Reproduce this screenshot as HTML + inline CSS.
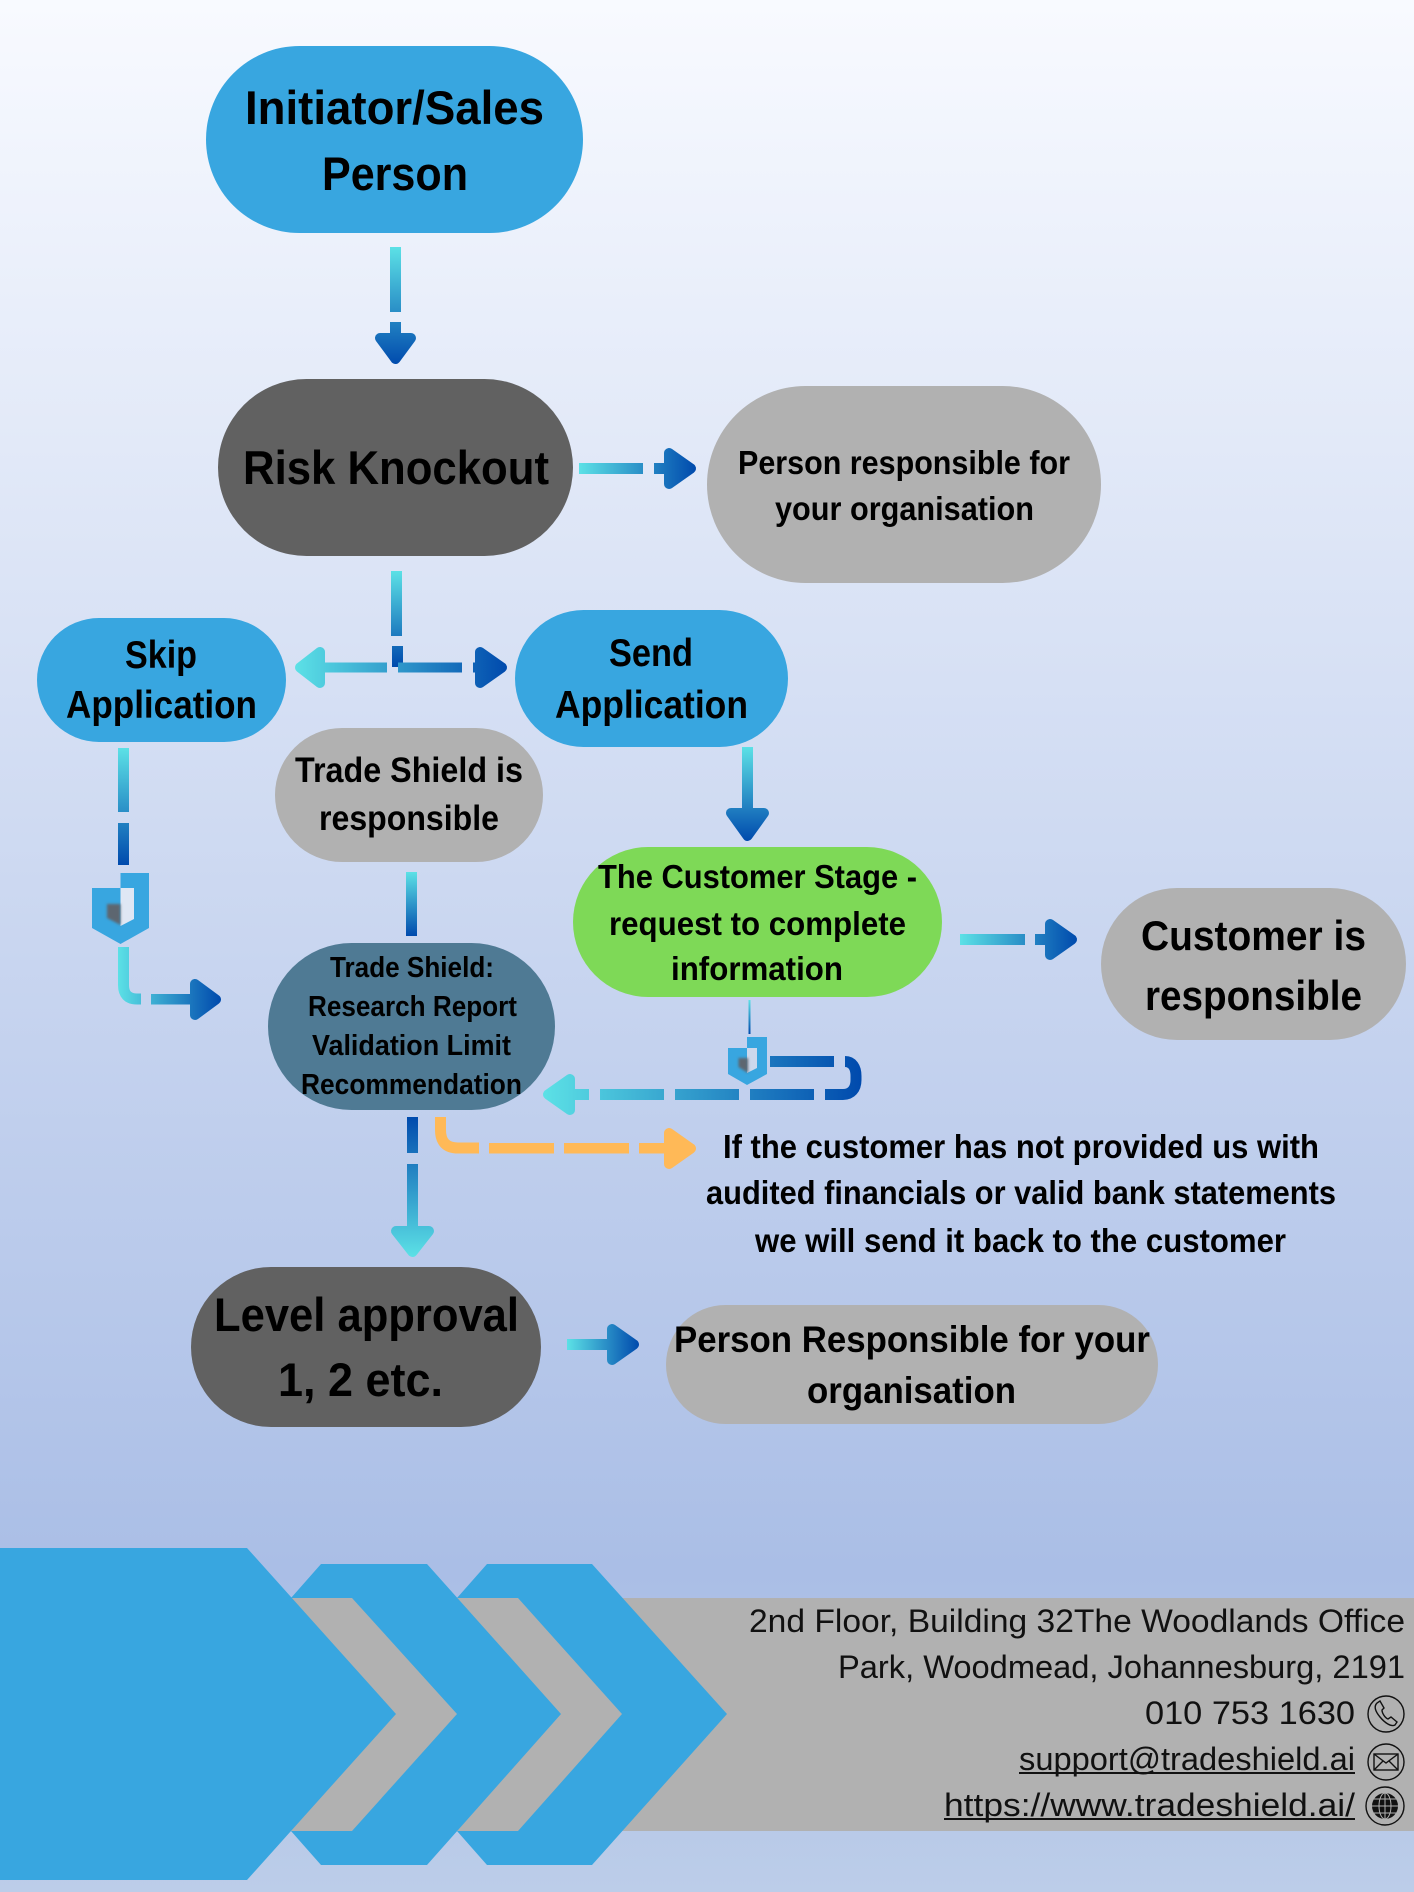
<!DOCTYPE html>
<html lang="en"><head><meta charset="utf-8"><title>Trade Shield Process</title>
<style>
html,body{margin:0;padding:0;width:1414px;height:1892px;overflow:hidden}
svg{display:block}
text{font-family:"Liberation Sans",sans-serif;fill:#000}
.b{font-weight:bold;text-anchor:start}
.r{font-weight:normal;text-anchor:start;fill:#111}
</style></head><body>
<svg xmlns="http://www.w3.org/2000/svg" width="1414" height="1892" viewBox="0 0 1414 1892">
<defs>
<linearGradient id="bg" x1="0" y1="0" x2="0" y2="1"><stop offset="0" stop-color="#f8faff"/><stop offset=".83" stop-color="#aabee6"/><stop offset="1" stop-color="#bccde9"/></linearGradient>
<linearGradient id="a1" gradientUnits="userSpaceOnUse" x1="0" y1="247" x2="0" y2="365"><stop offset="0" stop-color="#5ce1e6"/><stop offset="1" stop-color="#004aad"/></linearGradient>
<linearGradient id="a2" gradientUnits="userSpaceOnUse" x1="579" y1="0" x2="696" y2="0"><stop offset="0" stop-color="#5ce1e6"/><stop offset="1" stop-color="#004aad"/></linearGradient>
<linearGradient id="a3" gradientUnits="userSpaceOnUse" x1="0" y1="571" x2="0" y2="666"><stop offset="0" stop-color="#5ce1e6"/><stop offset="1" stop-color="#004aad"/></linearGradient>
<linearGradient id="a4" gradientUnits="userSpaceOnUse" x1="295" y1="0" x2="507" y2="0"><stop offset="0" stop-color="#5ce1e6"/><stop offset="1" stop-color="#004aad"/></linearGradient>
<linearGradient id="a5" gradientUnits="userSpaceOnUse" x1="0" y1="748" x2="0" y2="865"><stop offset="0" stop-color="#5ce1e6"/><stop offset="1" stop-color="#004aad"/></linearGradient>
<linearGradient id="a6" gradientUnits="userSpaceOnUse" x1="118" y1="0" x2="221" y2="0"><stop offset="0" stop-color="#5ce1e6"/><stop offset="1" stop-color="#004aad"/></linearGradient>
<linearGradient id="a7" gradientUnits="userSpaceOnUse" x1="0" y1="872" x2="0" y2="936"><stop offset="0" stop-color="#5ce1e6"/><stop offset="1" stop-color="#004aad"/></linearGradient>
<linearGradient id="a8" gradientUnits="userSpaceOnUse" x1="0" y1="747" x2="0" y2="841"><stop offset="0" stop-color="#5ce1e6"/><stop offset="1" stop-color="#004aad"/></linearGradient>
<linearGradient id="a9" gradientUnits="userSpaceOnUse" x1="960" y1="0" x2="1077" y2="0"><stop offset="0" stop-color="#5ce1e6"/><stop offset="1" stop-color="#004aad"/></linearGradient>
<linearGradient id="a10" gradientUnits="userSpaceOnUse" x1="543" y1="0" x2="861" y2="0"><stop offset="0" stop-color="#5ce1e6"/><stop offset="1" stop-color="#004aad"/></linearGradient>
<linearGradient id="a11" gradientUnits="userSpaceOnUse" x1="0" y1="1000" x2="0" y2="1034"><stop offset="0" stop-color="#5ce1e6"/><stop offset="1" stop-color="#004aad"/></linearGradient>
<linearGradient id="a12" gradientUnits="userSpaceOnUse" x1="0" y1="1117" x2="0" y2="1257"><stop offset="0" stop-color="#004aad"/><stop offset="1" stop-color="#5ce1e6"/></linearGradient>
<linearGradient id="a13" gradientUnits="userSpaceOnUse" x1="567" y1="0" x2="639" y2="0"><stop offset="0" stop-color="#5ce1e6"/><stop offset="1" stop-color="#004aad"/></linearGradient>
<filter id="bl" x="-40%" y="-40%" width="180%" height="180%"><feGaussianBlur stdDeviation="1.2"/></filter>
</defs>
<rect width="1414" height="1892" fill="url(#bg)"/>

<!-- top arrow -->
<rect x="390" y="247" width="11" height="65" fill="url(#a1)"/>
<rect x="390" y="322" width="11" height="14" fill="url(#a1)"/>
<path d="M380 338H411L395.5 359Z" fill="url(#a1)" stroke="url(#a1)" stroke-width="10" stroke-linejoin="round"/>

<!-- risk → person -->
<rect x="579" y="463" width="64" height="11" fill="url(#a2)"/>
<rect x="654" y="463" width="12" height="11" fill="url(#a2)"/>
<path d="M669 453V484L691 468.5Z" fill="url(#a2)" stroke="url(#a2)" stroke-width="10" stroke-linejoin="round"/>

<!-- T junction -->
<rect x="391" y="571" width="11" height="65" fill="url(#a3)"/>
<rect x="392" y="646" width="11" height="21" fill="url(#a3)"/>
<rect x="323" y="662.5" width="64" height="10" fill="url(#a4)"/>
<path d="M320 652V683L300 667.5Z" fill="url(#a4)" stroke="url(#a4)" stroke-width="10" stroke-linejoin="round"/>
<rect x="398" y="662.5" width="64" height="10" fill="url(#a4)"/>
<rect x="473" y="662.5" width="6" height="10" fill="url(#a4)"/>
<path d="M480 652V683L502 667.5Z" fill="url(#a4)" stroke="url(#a4)" stroke-width="10" stroke-linejoin="round"/>

<!-- skip path -->
<rect x="118" y="748" width="11" height="64" fill="url(#a5)"/>
<rect x="118" y="823" width="11" height="42" fill="url(#a5)"/>
<path d="M120.5 873H149V928L120.5 944L92 928V888H120.5Z" fill="#38a6e0"/>
<path d="M120.5 888H134V919L120.5 926Z" fill="#dfe7f4"/>
<path d="M107 904H120.5V925L107 918Z" fill="#5d6670" filter="url(#bl)"/>
<path d="M123.5 947V985Q123.5 999 137 999H141" fill="none" stroke="url(#a6)" stroke-width="11"/>
<rect x="151" y="994" width="42" height="10.5" fill="url(#a6)"/>
<path d="M195 984V1015L216 999.5Z" fill="url(#a6)" stroke="url(#a6)" stroke-width="10" stroke-linejoin="round"/>

<!-- gray→teal connector -->
<rect x="406" y="872" width="11" height="64" fill="url(#a7)"/>

<!-- send down -->
<rect x="742" y="747" width="11" height="62" fill="url(#a8)"/>
<path d="M731 813H764L747.5 836Z" fill="url(#a8)" stroke="url(#a8)" stroke-width="10" stroke-linejoin="round"/>

<!-- green → customer -->
<rect x="960" y="934" width="65" height="11" fill="url(#a9)"/>
<rect x="1035" y="934" width="12" height="11" fill="url(#a9)"/>
<path d="M1050 924V955L1072 939.5Z" fill="url(#a9)" stroke="url(#a9)" stroke-width="10" stroke-linejoin="round"/>

<!-- return path -->
<rect x="748.5" y="1000" width="2" height="34" fill="url(#a11)"/>
<rect x="770" y="1056" width="64" height="11" fill="url(#a10)"/>
<path d="M845 1061.5C852 1061.5 856 1067 856 1076V1080C856 1089 851 1094.5 843 1094.5H825" fill="none" stroke="url(#a10)" stroke-width="11"/>
<rect x="750" y="1089" width="64" height="11" fill="url(#a10)"/>
<rect x="675" y="1089" width="64" height="11" fill="url(#a10)"/>
<rect x="600" y="1089" width="64" height="11" fill="url(#a10)"/>
<rect x="573" y="1089" width="16" height="11" fill="url(#a10)"/>
<path d="M570 1079V1110L548 1094.5Z" fill="url(#a10)" stroke="url(#a10)" stroke-width="10" stroke-linejoin="round"/>
<path d="M747 1037H767V1074L747 1085L728 1074V1048H747Z" fill="#38a6e0"/>
<path d="M747 1048H757V1068L747 1073Z" fill="#cdd8ec"/>
<path d="M738.5 1058H748V1073L738.5 1067Z" fill="#5d6670" filter="url(#bl)"/>

<!-- down arrow from teal -->
<rect x="407" y="1117" width="11" height="36" fill="url(#a12)"/>
<rect x="407" y="1164" width="11" height="65" fill="url(#a12)"/>
<path d="M396 1231H429L412.5 1252Z" fill="url(#a12)" stroke="url(#a12)" stroke-width="10" stroke-linejoin="round"/>

<!-- orange -->
<path d="M440.5 1117V1130Q440.5 1148 458 1148H479" fill="none" stroke="#ffb957" stroke-width="11"/>
<rect x="489" y="1143" width="65" height="10.5" fill="#ffb957"/>
<rect x="564" y="1143" width="65" height="10.5" fill="#ffb957"/>
<rect x="639" y="1143" width="28" height="10.5" fill="#ffb957"/>
<path d="M669 1133V1164L691 1148.5Z" fill="#ffb957" stroke="#ffb957" stroke-width="10" stroke-linejoin="round"/>

<!-- level arrow -->
<rect x="567" y="1339" width="44" height="11" fill="url(#a13)"/>
<path d="M612 1329V1360L634 1344.5Z" fill="url(#a13)" stroke="url(#a13)" stroke-width="10" stroke-linejoin="round"/>

<!-- pills -->
<rect x="206" y="46" width="377" height="187" rx="93.5" fill="#38a6e0"/>
<rect x="218" y="379" width="355" height="177" rx="88.5" fill="#616161"/>
<rect x="707" y="386" width="394" height="197" rx="98.5" fill="#b1b1b1"/>
<rect x="37" y="618" width="249" height="124" rx="62" fill="#38a6e0"/>
<rect x="515" y="610" width="273" height="137" rx="68.5" fill="#38a6e0"/>
<rect x="275" y="728" width="268" height="134" rx="67" fill="#b1b1b1"/>
<rect x="268" y="943" width="287" height="167" rx="83.5" fill="#4f7a94"/>
<rect x="573" y="847" width="369" height="150" rx="75" fill="#7ed957"/>
<rect x="1101" y="888" width="305" height="152" rx="76" fill="#b1b1b1"/>
<rect x="191" y="1267" width="350" height="160" rx="80" fill="#616161"/>
<rect x="666" y="1305" width="492" height="119" rx="59.5" fill="#b1b1b1"/>

<!-- footer -->
<rect x="291" y="1598" width="1123" height="233" fill="#b1b1b1"/>
<path d="M0 1548H247L396 1714L247 1880H0Z" fill="#38a6e0"/>
<path d="M321 1564H427L561 1714L427 1865H321L291 1831H352L457 1714L352 1598H291Z" fill="#38a6e0"/>
<path d="M487 1564H592L727 1714L592 1865H487L457 1831H518L622 1714L518 1598H457Z" fill="#38a6e0"/>

<!-- labels -->
<g class="b">
<text class="b" x="245" y="124" font-size="47" textLength="299" lengthAdjust="spacingAndGlyphs">Initiator/Sales</text>
<text class="b" x="322" y="190" font-size="47" textLength="146" lengthAdjust="spacingAndGlyphs">Person</text>
<text class="b" x="243" y="484" font-size="47" textLength="306" lengthAdjust="spacingAndGlyphs">Risk Knockout</text>
<text class="b" x="738" y="474" font-size="33" textLength="332" lengthAdjust="spacingAndGlyphs">Person responsible for</text>
<text class="b" x="775" y="520" font-size="33" textLength="259" lengthAdjust="spacingAndGlyphs">your organisation</text>
<text class="b" x="125" y="668" font-size="39" textLength="72" lengthAdjust="spacingAndGlyphs">Skip</text>
<text class="b" x="66" y="718" font-size="39" textLength="191" lengthAdjust="spacingAndGlyphs">Application</text>
<text class="b" x="609" y="666" font-size="39" textLength="84" lengthAdjust="spacingAndGlyphs">Send</text>
<text class="b" x="555" y="718" font-size="39" textLength="193" lengthAdjust="spacingAndGlyphs">Application</text>
<text class="b" x="295" y="782" font-size="35" textLength="228" lengthAdjust="spacingAndGlyphs">Trade Shield is</text>
<text class="b" x="319" y="830" font-size="35" textLength="180" lengthAdjust="spacingAndGlyphs">responsible</text>
<text class="b" x="330" y="977" font-size="29" textLength="164" lengthAdjust="spacingAndGlyphs">Trade Shield:</text>
<text class="b" x="308" y="1016" font-size="29" textLength="209" lengthAdjust="spacingAndGlyphs">Research Report</text>
<text class="b" x="312" y="1055" font-size="29" textLength="199" lengthAdjust="spacingAndGlyphs">Validation Limit</text>
<text class="b" x="301" y="1094" font-size="29" textLength="221" lengthAdjust="spacingAndGlyphs">Recommendation</text>
<text class="b" x="598" y="888" font-size="33" textLength="319" lengthAdjust="spacingAndGlyphs">The Customer Stage -</text>
<text class="b" x="609" y="935" font-size="33" textLength="297" lengthAdjust="spacingAndGlyphs">request to complete</text>
<text class="b" x="671" y="980" font-size="33" textLength="172" lengthAdjust="spacingAndGlyphs">information</text>
<text class="b" x="1141" y="950" font-size="42" textLength="225" lengthAdjust="spacingAndGlyphs">Customer is</text>
<text class="b" x="1145" y="1010" font-size="42" textLength="217" lengthAdjust="spacingAndGlyphs">responsible</text>
<text class="b" x="723" y="1158" font-size="33" textLength="596" lengthAdjust="spacingAndGlyphs">If the customer has not provided us with</text>
<text class="b" x="706" y="1204" font-size="33" textLength="630" lengthAdjust="spacingAndGlyphs">audited financials or valid bank statements</text>
<text class="b" x="755" y="1252" font-size="33" textLength="531" lengthAdjust="spacingAndGlyphs">we will send it back to the customer</text>
<text class="b" x="214" y="1331" font-size="47" textLength="305" lengthAdjust="spacingAndGlyphs">Level approval</text>
<text class="b" x="278" y="1396" font-size="47" textLength="165" lengthAdjust="spacingAndGlyphs">1, 2 etc.</text>
<text class="b" x="674" y="1352" font-size="37" textLength="476" lengthAdjust="spacingAndGlyphs">Person Responsible for your</text>
<text class="b" x="807" y="1403" font-size="37" textLength="209" lengthAdjust="spacingAndGlyphs">organisation</text>
</g>
<text class="r" x="749" y="1632" font-size="32" textLength="656" lengthAdjust="spacingAndGlyphs">2nd Floor, Building 32The Woodlands Office</text>
<text class="r" x="838" y="1678" font-size="32" textLength="567" lengthAdjust="spacingAndGlyphs">Park, Woodmead, Johannesburg, 2191</text>
<text class="r" x="1145" y="1724" font-size="32" textLength="210" lengthAdjust="spacingAndGlyphs">010 753 1630</text>
<text class="r" x="1019" y="1770" font-size="32" textLength="336" lengthAdjust="spacingAndGlyphs">support@tradeshield.ai</text>
<text class="r" x="944" y="1816" font-size="32" textLength="411" lengthAdjust="spacingAndGlyphs">https://www.tradeshield.ai/</text>
<rect x="1019" y="1772" width="336" height="2" fill="#111"/>
<rect x="944" y="1818" width="411" height="2" fill="#111"/>

<!-- icons -->
<g fill="none" stroke="#111" stroke-width="1.4">
<circle cx="1386" cy="1714" r="18"/>
<path d="M1377 1703C1374 1706 1375 1711 1380 1717C1385 1723 1391 1727 1395 1725L1397 1722L1391 1717L1388 1719C1385 1718 1382 1713 1382 1710L1384 1708L1380 1701Z"/>
<circle cx="1386" cy="1762" r="18"/>
<rect x="1374" y="1754" width="24" height="16"/>
<path d="M1374 1754L1386 1763L1398 1754M1374 1770L1383 1761M1398 1770L1389 1761"/>
<circle cx="1385" cy="1806" r="19"/>
</g>
<circle cx="1385" cy="1806" r="13" fill="#111"/>
<g fill="none" stroke="#b1b1b1" stroke-width="1">
<ellipse cx="1385" cy="1806" rx="6" ry="13"/>
<path d="M1385 1793V1819M1372 1806H1398M1374 1799H1396M1374 1813H1396"/>
</g>
</svg>
</body></html>
